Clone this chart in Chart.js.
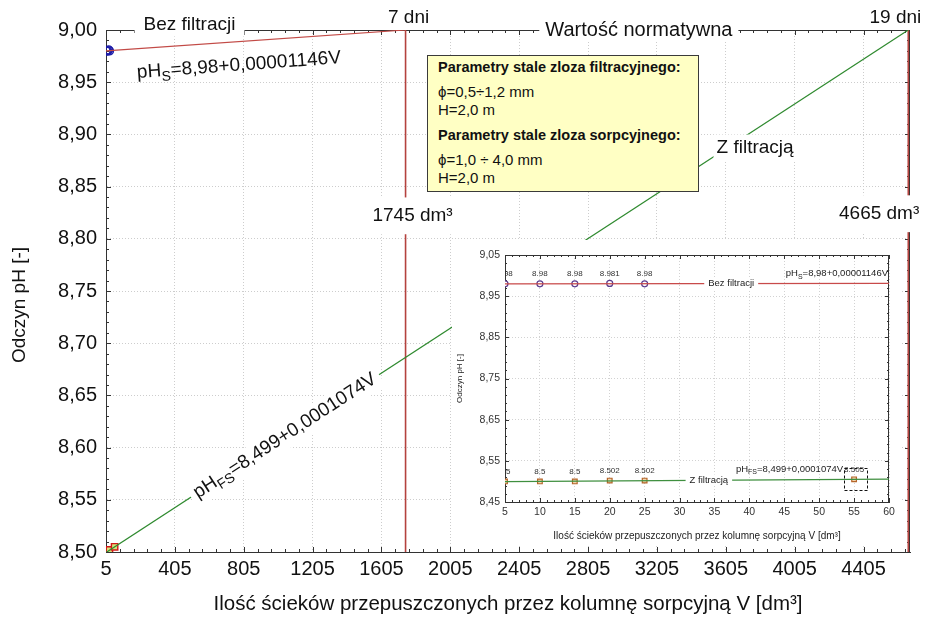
<!DOCTYPE html>
<html>
<head>
<meta charset="utf-8">
<script src="https://cdn.jsdelivr.net/npm/chart.js@4.4.0/dist/chart.umd.min.js"></script>
<style>
  html, body { margin: 0; padding: 0; background: #fff; }
  #wrap { position: relative; width: 932px; height: 624px; overflow: hidden; }
  #mainChart { position: absolute; left: 0; top: 0; }
  #insetBox { position: absolute; left: 452px; top: 240px; width: 450px; height: 305px; background: #fff; }
  #paramBox {
    position: absolute; left: 427px; top: 55px; width: 260px; height: 135px;
    padding: 0 0 0 10px; background: #ffffc4; border: 1px solid #3a3a3a;
    font-family: Arial, 'Liberation Sans', sans-serif; font-size: 15px; line-height: 18px; color: #111;
  }
  #paramBox .hd { font-weight: bold; font-size: 14.5px; }
  #paramBox .first { margin-top: 2px; margin-bottom: 7px; }
  #paramBox .second { margin-top: 7px; margin-bottom: 7px; }
</style>
</head>
<body>
<div id="wrap">
  <canvas id="mainChart" width="932" height="624"></canvas>
  <div id="paramBox">
    <div class="hd first">Parametry stale zloza filtracyjnego:</div>
    <div>ϕ=0,5÷1,2 mm</div>
    <div>H=2,0 m</div>
    <div class="hd second">Parametry stale zloza sorpcyjnego:</div>
    <div>ϕ=1,0 ÷ 4,0 mm</div>
    <div>H=2,0 m</div>
  </div>
  <div id="insetBox"><canvas id="insetChart" width="450" height="305"></canvas></div>
</div>
<script>
const FONT = "Arial, 'Liberation Sans', sans-serif";

// measured pH vs volume passed through the column [dm3]
const volNoFilter = [5, 10, 15, 20, 25];
const phNoFilter  = [8.98, 8.98, 8.98, 8.981, 8.98];
const volFilter   = [5, 10, 15, 20, 25, 55];
const phFilter    = [8.5, 8.5, 8.5, 8.502, 8.502, 8.505];

// regression lines, end points (main chart)
const fitNoFilterV  = [5, 1745];
const fitNoFilterPh = [8.98, 9.00];
const fitFilterV    = [5, 4665];
const fitFilterPh   = [8.4995, 9.00];

// same regressions over the inset range 5-60 dm3
const insetFitV          = [5, 60];
const insetFitNoFilterPh = [8.980, 8.981];
const insetFitFilterPh   = [8.4995, 8.5055];

// normative pH and the volumes at which it is reached
const normPh     = 9.00;
const limitV     = [1745, 4665];
const limitDays  = ['7 dni', '19 dni'];
const limitLabel = ['1745 dm³', '4665 dm³'];

// axes
const xTicks      = [5, 405, 805, 1205, 1605, 2005, 2405, 2805, 3205, 3605, 4005, 4405];
const yTicks      = [8.50, 8.55, 8.60, 8.65, 8.70, 8.75, 8.80, 8.85, 8.90, 8.95, 9.00];
const insetXTicks = [5, 10, 15, 20, 25, 30, 35, 40, 45, 50, 55, 60];
const insetYTicks = [8.45, 8.55, 8.65, 8.75, 8.85, 8.95, 9.05];

const pts = (xs, ys) => xs.map((v, i) => ({x: v, y: ys[i]}));
const comma = (v, d) => v.toFixed(d).replace('.', ',');

// text with optional white plate behind it (used to break lines under labels)
function plateText(ctx, text, x, y, size, o = {}) {
  ctx.save();
  ctx.font = `${o.bold ? 'bold ' : ''}${size}px ${FONT}`;
  ctx.textBaseline = 'middle';
  ctx.textAlign = o.align || 'center';
  const w = ctx.measureText(text).width;
  const x0 = o.align === 'left' ? x : o.align === 'right' ? x - w : x - w / 2;
  if (o.padX != null) {
    const py = o.padY || 0;
    ctx.fillStyle = '#fff';
    ctx.fillRect(x0 - o.padX, y - size * 0.6 - py, w + 2 * o.padX, size * 1.2 + 2 * py);
  }
  ctx.fillStyle = o.color || '#111';
  ctx.translate(x, y);
  if (o.angle) ctx.rotate(o.angle);
  ctx.fillText(text, 0, 0);
  ctx.restore();
}

// "pH" + subscript + rest, optionally rotated, optionally on a white plate
function drawEq(ctx, o) {
  const sub = Math.round(o.size * 0.72);
  ctx.save();
  ctx.translate(o.x, o.y);
  ctx.rotate(o.angle || 0);
  ctx.textBaseline = 'middle';
  ctx.textAlign = 'left';
  ctx.font = `${o.size}px ${FONT}`;
  const w1 = ctx.measureText(o.head).width;
  const w3 = ctx.measureText(o.tail).width;
  ctx.font = `${sub}px ${FONT}`;
  const w2 = ctx.measureText(o.sub).width;
  const total = w1 + w2 + w3;
  const x0 = o.align === 'center' ? -total / 2 : o.align === 'right' ? -total : 0;
  if (o.pad) {
    ctx.fillStyle = '#fff';
    ctx.fillRect(x0 - o.pad, -o.size * 0.62, total + 2 * o.pad, o.size * 1.3);
  }
  ctx.fillStyle = o.color || '#111';
  ctx.font = `${o.size}px ${FONT}`;
  ctx.fillText(o.head, x0, 0);
  ctx.font = `${sub}px ${FONT}`;
  ctx.fillText(o.sub, x0 + w1, o.size * 0.32);
  ctx.font = `${o.size}px ${FONT}`;
  ctx.fillText(o.tail, x0 + w1 + w2, 0);
  ctx.restore();
}

// closed frame with short inward ticks on all four sides
function frameTicks(ctx, a, x, y, xMajor, xStep, yMajor, yStep, minorLen, majorLen, color) {
  ctx.save();
  ctx.strokeStyle = color;
  ctx.lineWidth = 1;
  ctx.beginPath();
  ctx.moveTo(a.left, Math.round(a.top) + 0.5); ctx.lineTo(a.right, Math.round(a.top) + 0.5);
  ctx.moveTo(Math.round(a.right) - 0.5, a.top); ctx.lineTo(Math.round(a.right) - 0.5, a.bottom);
  const tx = (v, len) => {
    const px = Math.round(x.getPixelForValue(v)) + 0.5;
    ctx.moveTo(px, a.bottom); ctx.lineTo(px, a.bottom - len);
    ctx.moveTo(px, a.top); ctx.lineTo(px, a.top + len);
  };
  const ty = (v, len) => {
    const py = Math.round(y.getPixelForValue(v)) + 0.5;
    ctx.moveTo(a.left, py); ctx.lineTo(a.left + len, py);
    ctx.moveTo(a.right, py); ctx.lineTo(a.right - len, py);
  };
  for (let v = xMajor[0]; v <= x.max + 1e-9; v += xStep) tx(v, minorLen);
  xMajor.forEach(v => tx(v, majorLen));
  for (let k = 0; yMajor[0] + k * yStep <= y.max + 1e-9; k++) ty(yMajor[0] + k * yStep, minorLen);
  yMajor.forEach(v => ty(v, majorLen));
  ctx.stroke();
  ctx.restore();
}

const decorMain = {
  id: 'decorMain',
  beforeDatasetsDraw(chart) {
    const {ctx, chartArea: a, scales: {x, y}} = chart;
    frameTicks(ctx, a, x, y, xTicks, 80, yTicks, 0.01, 3, 5, '#333');
  },
  afterDatasetsDraw(chart) {
    const {ctx, chartArea: a, scales: {x, y}} = chart;
    const topY = y.getPixelForValue(normPh);

    // y axis title
    plateText(ctx, 'Odczyn pH [-]', 20, (a.top + a.bottom) / 2 + 14, 19, {angle: -Math.PI / 2});

    // labels sitting on the normative line
    plateText(ctx, 'Bez filtracji', x.getPixelForValue(490), topY - 5, 19, {padX: 9});
    plateText(ctx, 'Wartość normatywna', x.getPixelForValue(3100), topY, 20, {padX: 6});

    // days and volumes at the limit lines
    plateText(ctx, limitDays[0], x.getPixelForValue(limitV[0]) + 3, topY - 12, 19);
    plateText(ctx, limitDays[1], x.getPixelForValue(limitV[1]) + 13, topY - 12, 19, {align: 'right'});
    plateText(ctx, limitLabel[0], x.getPixelForValue(limitV[0]) + 7, y.getPixelForValue(8.822), 19, {padX: 1, padY: 7});
    plateText(ctx, limitLabel[1], x.getPixelForValue(limitV[1]) + 11, y.getPixelForValue(8.824), 19, {align: 'right', padX: 1, padY: 7});

    // regression equations, laid along their lines
    const sx0 = x.getPixelForValue(fitNoFilterV[0]), sy0 = y.getPixelForValue(fitNoFilterPh[0]);
    const sx1 = x.getPixelForValue(fitNoFilterV[1]), sy1 = y.getPixelForValue(fitNoFilterPh[1]);
    drawEq(ctx, {head: 'pH', sub: 'S', tail: '=8,98+0,00001146V', size: 19,
      x: x.getPixelForValue(185), y: sy0 + 22, angle: Math.atan2(sy1 - sy0, sx1 - sx0) * 1.05, align: 'left'});

    const fx0 = x.getPixelForValue(fitFilterV[0]), fy0 = y.getPixelForValue(fitFilterPh[0]);
    const fx1 = x.getPixelForValue(fitFilterV[1]), fy1 = y.getPixelForValue(fitFilterPh[1]);
    const ang = Math.atan2(fy1 - fy0, fx1 - fx0);
    const t = (x.getPixelForValue(1045) - fx0) / (fx1 - fx0);
    drawEq(ctx, {head: 'pH', sub: 'FS', tail: '=8,499+0,0001074V', size: 19,
      x: fx0 + t * (fx1 - fx0), y: fy0 + t * (fy1 - fy0), angle: ang, align: 'center', pad: 5});

    const tz = (x.getPixelForValue(3775) - fx0) / (fx1 - fx0);
    plateText(ctx, 'Z filtracją', fx0 + tz * (fx1 - fx0), y.getPixelForValue(8.887), 19, {padX: 3, padY: 2});
  }
};

const mainChart = new Chart(document.getElementById('mainChart'), {
  type: 'scatter',
  data: {
    datasets: [
      {data: pts(fitNoFilterV, fitNoFilterPh), showLine: true, borderColor: '#c24a46', borderWidth: 1.2, pointRadius: 0},
      {data: pts(fitFilterV, fitFilterPh), showLine: true, borderColor: '#2f8a2f', borderWidth: 1.2, pointRadius: 0},
      {data: pts([limitV[0], limitV[0]], [yTicks[0], normPh]), showLine: true, borderColor: '#b4423e', borderWidth: 1.6, pointRadius: 0},
      {data: pts([limitV[1], limitV[1]], [yTicks[0], normPh]), showLine: true, borderColor: '#b4423e', borderWidth: 1.6, pointRadius: 0},
      {data: pts(volNoFilter, phNoFilter), pointStyle: 'circle', pointRadius: 4, borderWidth: 1.4,
       borderColor: '#1c1ca8', backgroundColor: 'rgba(255,255,255,0)'},
      {data: pts(volFilter, phFilter), pointStyle: 'rect', pointRadius: 4.5, borderWidth: 1.4,
       borderColor: '#d01818', backgroundColor: '#d9df78'}
    ]
  },
  options: {
    responsive: false,
    animation: false,
    layout: {padding: {left: 0, top: 30, right: 22, bottom: 0}},
    plugins: {legend: {display: false}, tooltip: {enabled: false}},
    scales: {
      x: {
        type: 'linear', min: 5, max: 4675,
        afterBuildTicks: s => { s.ticks = xTicks.map(v => ({value: v})); },
        afterFit: s => { s.height = 72; },
        ticks: {font: {family: FONT, size: 20}, color: '#111', padding: 5, maxRotation: 0, autoSkip: false,
                callback: v => String(v)},
        grid: {color: '#cdcdcd', drawTicks: false},
        border: {color: '#333', width: 1, dash: [1, 2]},
        title: {display: true, text: 'Ilość ścieków przepuszczonych przez kolumnę sorpcyjną V [dm³]',
                font: {family: FONT, size: 20.5}, color: '#111', padding: {bottom: 7}}
      },
      y: {
        type: 'linear', min: 8.5, max: 9.0,
        afterBuildTicks: s => { s.ticks = yTicks.map(v => ({value: v})); },
        afterFit: s => { s.width = 106; },
        ticks: {font: {family: FONT, size: 20}, color: '#111', padding: 9, autoSkip: false,
                callback: v => comma(v, 2)},
        grid: {color: '#cdcdcd', drawTicks: false},
        border: {color: '#333', width: 1, dash: [1, 2]}
      }
    }
  },
  plugins: [decorMain]
});

const decorInset = {
  id: 'decorInset',
  beforeDatasetsDraw(chart) {
    const {ctx, chartArea: a, scales: {x, y}} = chart;
    frameTicks(ctx, a, x, y, insetXTicks, 1, insetYTicks, 0.02, 2, 4, '#333');
  },
  afterDatasetsDraw(chart) {
    const {ctx, chartArea: a, scales: {x, y}} = chart;

    // value labels above the measured points, cut at the frame
    ctx.save();
    ctx.beginPath();
    ctx.rect(a.left, a.top, a.right - a.left, a.bottom - a.top);
    ctx.clip();
    volNoFilter.forEach((v, i) => plateText(ctx, String(phNoFilter[i]), x.getPixelForValue(v),
      y.getPixelForValue(phNoFilter[i]) - 10, 8, {color: '#333'}));
    volFilter.forEach((v, i) => plateText(ctx, String(phFilter[i]), x.getPixelForValue(v),
      y.getPixelForValue(phFilter[i]) - 10, 8, {color: '#333'}));
    ctx.restore();

    // series names on the lines
    plateText(ctx, 'Bez filtracji', x.getPixelForValue(37.4), y.getPixelForValue(8.9805), 9.5, {padX: 4, color: '#222'});
    plateText(ctx, 'Z filtracją', x.getPixelForValue(34.2), y.getPixelForValue(8.503), 9.5, {padX: 4, color: '#222'});

    drawEq(ctx, {head: 'pH', sub: 'S', tail: '=8,98+0,00001146V', size: 9.5, color: '#222',
      x: a.right - 1, y: y.getPixelForValue(phNoFilter[0]) - 10, align: 'right'});

    // dashed frame around the last point and its label
    const lx = x.getPixelForValue(volFilter[5]), ly = y.getPixelForValue(phFilter[5]);
    drawEq(ctx, {head: 'pH', sub: 'FS', tail: '=8,499+0,0001074V', size: 9.5, color: '#222',
      x: lx - 11, y: ly - 10, align: 'right'});
    ctx.save();
    ctx.strokeStyle = '#111';
    ctx.lineWidth = 1;
    ctx.setLineDash([3, 2]);
    ctx.strokeRect(Math.round(lx - 10) + 0.5, Math.round(ly - 11) + 0.5, 23, 22);
    ctx.restore();
  }
};

const insetChart = new Chart(document.getElementById('insetChart'), {
  type: 'scatter',
  data: {
    datasets: [
      {data: pts(insetFitV, insetFitNoFilterPh), showLine: true, borderColor: '#c84a4a', borderWidth: 1.2, pointRadius: 0},
      {data: pts(insetFitV, insetFitFilterPh), showLine: true, borderColor: '#3f8f3f', borderWidth: 1.2, pointRadius: 0},
      {data: pts(volNoFilter, phNoFilter), pointStyle: 'circle', pointRadius: 3, borderWidth: 1.2,
       borderColor: '#5a3a8c', backgroundColor: '#fff'},
      {data: pts(volFilter, phFilter), pointStyle: 'rect', pointRadius: 3.3, borderWidth: 1.2,
       borderColor: '#b5652a', backgroundColor: '#f3d6ae'}
    ]
  },
  options: {
    responsive: false,
    animation: false,
    layout: {padding: {left: 0, top: 15, right: 13, bottom: 0}},
    plugins: {legend: {display: false}, tooltip: {enabled: false}},
    scales: {
      x: {
        type: 'linear', min: 5, max: 60,
        afterBuildTicks: s => { s.ticks = insetXTicks.map(v => ({value: v})); },
        afterFit: s => { s.height = 43; },
        ticks: {font: {family: FONT, size: 10.5}, color: '#333', padding: 4, maxRotation: 0, autoSkip: false,
                callback: v => String(v)},
        grid: {color: '#d2d2d2', drawTicks: false},
        border: {color: '#333', width: 1, dash: [1, 2]},
        title: {display: true, text: 'Ilość ścieków przepuszczonych przez kolumnę sorpcyjną V [dm³]',
                font: {family: FONT, size: 10}, color: '#222', padding: {bottom: 3}}
      },
      y: {
        type: 'linear', min: 8.45, max: 9.05,
        afterBuildTicks: s => { s.ticks = insetYTicks.map(v => ({value: v})); },
        afterFit: s => { s.width = 53; },
        ticks: {font: {family: FONT, size: 10.5}, color: '#333', padding: 5, autoSkip: false,
                callback: v => comma(v, 2)},
        grid: {color: '#d2d2d2', drawTicks: false},
        border: {color: '#333', width: 1, dash: [1, 2]},
        title: {display: true, text: 'Odczyn pH [-]', font: {family: FONT, size: 8}, color: '#222',
                padding: {top: 3}}
      }
    }
  },
  plugins: [decorInset]
});
</script>
</body>
</html>
